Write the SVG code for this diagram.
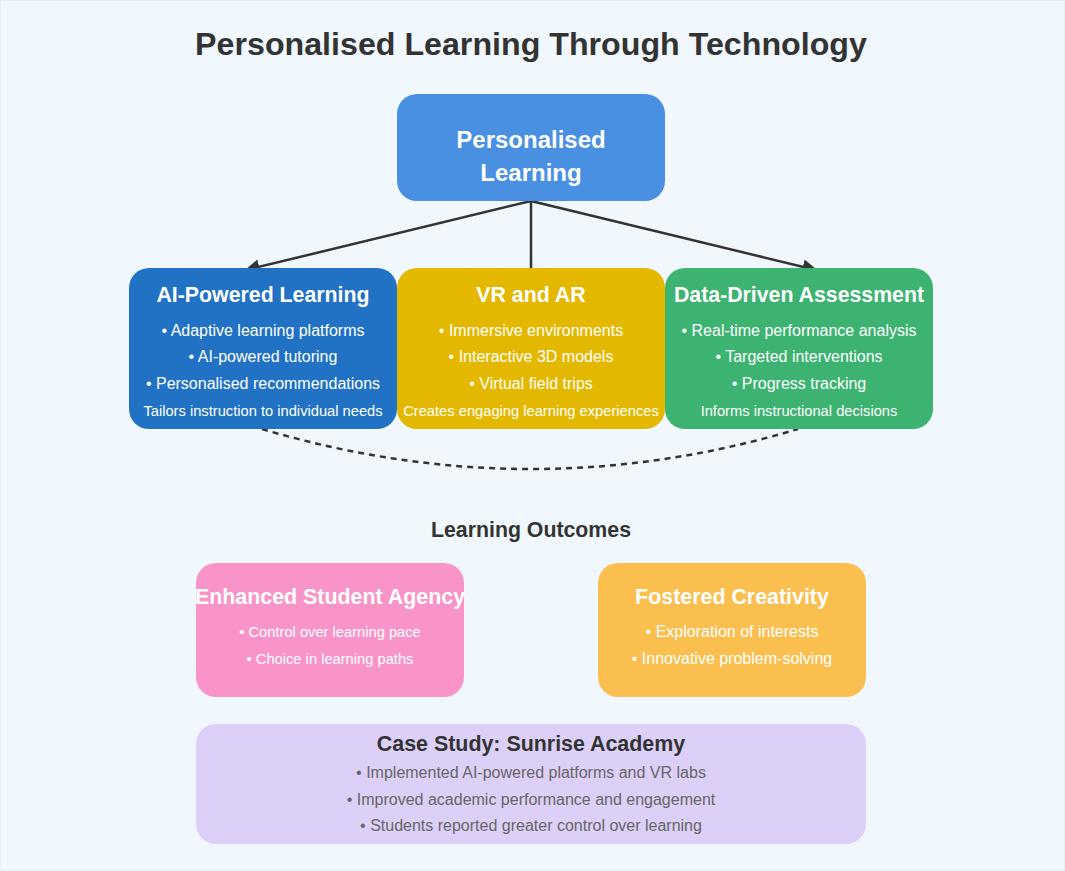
<svg xmlns="http://www.w3.org/2000/svg" width="1065" height="871" viewBox="0 0 1065 871">
<defs>
<style>
text{font-family:"Liberation Sans",Arial,sans-serif;text-anchor:middle}
.h{font-weight:bold;fill:#fff}
.b{fill:#fff;font-size:16px}
.s{fill:#fff;font-size:14.7px}
.conn{stroke:#333;stroke-width:2.5;fill:none}
</style>
<marker id="ah" viewBox="0 0 10 10" refX="9" refY="5" markerWidth="6" markerHeight="6" orient="auto"><path d="M0,0 L10,5 L0,10 z" fill="#333"/></marker>
</defs>
<rect x="0" y="0" width="1065" height="871" fill="#F0F7FD"/>
<rect x="0.5" y="0.5" width="1064" height="870" fill="none" stroke="#E6EEF5"/>
<text x="531" y="55" style="font-size:32.2px;font-weight:bold;fill:#333">Personalised Learning Through Technology</text>
<g id="connectors">
<line class="conn" x1="531" y1="201" x2="246" y2="270" marker-end="url(#ah)"/>
<line class="conn" x1="531" y1="201" x2="531" y2="269"/>
<line class="conn" x1="531" y1="201" x2="816" y2="270" marker-end="url(#ah)"/>
<path class="conn" d="M262,429 Q531,509 798,429" stroke-dasharray="6,5"/>
</g>
<g id="root">
<rect x="397" y="94" width="268" height="107" rx="20" fill="#4A90E2"/>
<text class="h" x="531" y="148" style="font-size:24px">Personalised</text>
<text class="h" x="531" y="181" style="font-size:24px">Learning</text>
</g>
<g id="ai">
<rect x="129" y="268" width="268" height="161" rx="20" fill="#2172C5"/>
<text class="h" x="263" y="302" style="font-size:21.3px">AI-Powered Learning</text>
<text class="b" x="263" y="336">• Adaptive learning platforms</text>
<text class="b" x="263" y="362">• AI-powered tutoring</text>
<text class="b" x="263" y="389">• Personalised recommendations</text>
<text class="s" x="263" y="416">Tailors instruction to individual needs</text>
</g>
<g id="vr">
<rect x="397" y="268" width="268" height="161" rx="20" fill="#E5B800"/>
<text class="h" x="531" y="302" style="font-size:21.3px">VR and AR</text>
<text class="b" x="531" y="336">• Immersive environments</text>
<text class="b" x="531" y="362">• Interactive 3D models</text>
<text class="b" x="531" y="389">• Virtual field trips</text>
<text class="s" x="531" y="416">Creates engaging learning experiences</text>
</g>
<g id="data">
<rect x="665" y="268" width="268" height="161" rx="20" fill="#3CB371"/>
<text class="h" x="799" y="302" style="font-size:21.3px">Data-Driven Assessment</text>
<text class="b" x="799" y="336">• Real-time performance analysis</text>
<text class="b" x="799" y="362">• Targeted interventions</text>
<text class="b" x="799" y="389">• Progress tracking</text>
<text class="s" x="799" y="416">Informs instructional decisions</text>
</g>
<text x="531" y="537" style="font-size:21.3px;font-weight:bold;fill:#333">Learning Outcomes</text>
<g id="agency">
<rect x="196" y="563" width="268" height="134" rx="20" fill="#F994C9"/>
<text class="h" x="330" y="604" style="font-size:21.4px">Enhanced Student Agency</text>
<text class="b" x="330" y="637" style="font-size:14.7px">• Control over learning pace</text>
<text class="b" x="330" y="664" style="font-size:14.7px">• Choice in learning paths</text>
</g>
<g id="creativity">
<rect x="598" y="563" width="268" height="134" rx="20" fill="#FBBF4F"/>
<text class="h" x="732" y="604" style="font-size:21.4px">Fostered Creativity</text>
<text class="b" x="732" y="637">• Exploration of interests</text>
<text class="b" x="732" y="664">• Innovative problem-solving</text>
</g>
<g id="case">
<rect x="196" y="724" width="670" height="120" rx="20" fill="#DDD0F8"/>
<text x="531" y="751" style="font-size:21.4px;font-weight:bold;fill:#333">Case Study: Sunrise Academy</text>
<text x="531" y="778" style="font-size:16px;fill:#666">• Implemented AI-powered platforms and VR labs</text>
<text x="531" y="805" style="font-size:16px;fill:#666">• Improved academic performance and engagement</text>
<text x="531" y="831" style="font-size:16px;fill:#666">• Students reported greater control over learning</text>
</g>
</svg>
